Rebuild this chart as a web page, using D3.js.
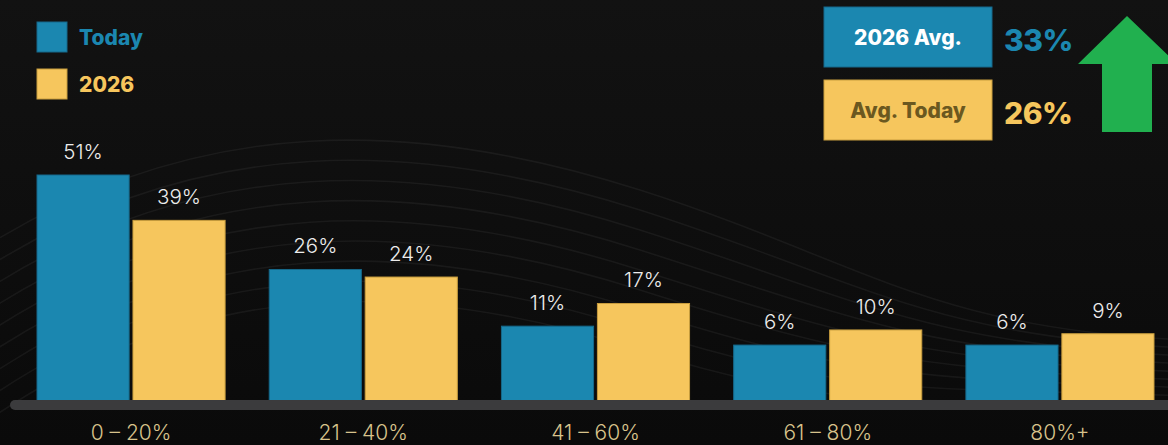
<!DOCTYPE html>
<html>
<head>
<meta charset="utf-8">
<script src="https://cdn.jsdelivr.net/npm/d3@7"></script>
<style>
  html, body { margin: 0; padding: 0; background: #101010; }
  svg { display: block; }
</style>
</head>
<body>
<svg id="chart" width="1168" height="445"></svg>
<script>
// ---- data ----
const categories = ["0 – 20%", "21 – 40%", "41 – 60%", "61 – 80%", "80%+"];
const seriesNames = ["Today", "2026"];
const todayValues = [51, 26, 11, 6, 6];
const future2026Values = [39, 24, 17, 10, 9];
const avgLabels = ["2026 Avg.", "Avg. Today"];
const avgValues = [33, 26];

const W = 1168, H = 445;
const BLUE = "#1b87b0", YELLOW = "#f6c65d";
const FONT = "Inter, 'Open Sans', sans-serif";
const svg = d3.select("#chart");

// background
const defs = svg.append("defs");
const bg = defs.append("linearGradient").attr("id", "bg").attr("x1", 0).attr("y1", 0).attr("x2", 0).attr("y2", 1);
bg.append("stop").attr("offset", "0%").attr("stop-color", "#121212");
bg.append("stop").attr("offset", "100%").attr("stop-color", "#0a0a0a");
svg.append("rect").attr("width", W).attr("height", H).attr("fill", "url(#bg)");

// decorative faint waves
const waveG = svg.append("g").attr("fill", "none").attr("stroke", "#ffffff").attr("stroke-opacity", 0.05).attr("stroke-width", 1.6);
for (let i = 0; i < 9; i++) {
  const y0 = 250 + i * 22, peak = 150 + i * 20, end = 330 + i * 8;
  waveG.append("path").attr("d",
    `M ${-20} ${y0} C ${200} ${peak - 40}, ${420} ${peak - 30}, ${640} ${peak + 40} S ${930} ${end}, ${1190} ${end + 10}`);
}

// scales
const x0 = d3.scaleBand().domain(categories).range([37, 1154]).paddingInner(0.19).paddingOuter(0);
const x1 = d3.scaleBand().domain(seriesNames).range([0, x0.bandwidth()]).paddingInner(0.04);
const baseY = 401;
const y = d3.scaleLinear().domain([-8.8, 51]).range([baseY, 175]);

const rows = categories.map((c, i) => ({ cat: c, vals: [
  { s: "Today", v: todayValues[i] },
  { s: "2026", v: future2026Values[i] }
]}));
const color = d3.scaleOrdinal().domain(seriesNames).range([BLUE, YELLOW]);
const stroke = d3.scaleOrdinal().domain(seriesNames).range(["#16698b", "#c89d3e"]);

const groups = svg.append("g").selectAll("g").data(rows).join("g")
  .attr("transform", d => `translate(${x0(d.cat)},0)`);

groups.selectAll("rect").data(d => d.vals).join("rect")
  .attr("x", d => x1(d.s))
  .attr("y", d => y(d.v))
  .attr("width", x1.bandwidth())
  .attr("height", d => baseY - y(d.v))
  .attr("fill", d => color(d.s))
  .attr("stroke", d => stroke(d.s))
  .attr("stroke-width", 1);

groups.selectAll("text.val").data(d => d.vals).join("text")
  .attr("class", "val")
  .attr("x", d => x1(d.s) + x1.bandwidth() / 2)
  .attr("y", d => y(d.v) - 16)
  .attr("text-anchor", "middle")
  .attr("fill", "#ececec")
  .attr("font-family", FONT)
  .attr("font-weight", 300)
  .attr("font-size", 20.5)
  .text(d => d.v + "%");

// axis bar
svg.append("rect").attr("x", 10).attr("y", 400).attr("width", W + 20).attr("height", 10)
  .attr("rx", 5).attr("fill", "#3b3b3d");

// category labels via axis
const axis = d3.axisBottom(x0).tickSize(0).tickPadding(0);
const ax = svg.append("g").attr("transform", `translate(0,${440})`).call(axis);
ax.select(".domain").remove();
ax.selectAll("text")
  .attr("y", 0).attr("dy", 0)
  .attr("fill", "#d8c38c")
  .attr("font-family", FONT)
  .attr("font-weight", 300)
  .attr("font-size", 21);

// legend
const leg = svg.append("g").selectAll("g").data(seriesNames).join("g")
  .attr("transform", (d, i) => `translate(37,${22 + i * 47})`);
leg.append("rect").attr("width", 30).attr("height", 30).attr("fill", d => color(d))
  .attr("stroke", d => stroke(d)).attr("stroke-width", 1);
leg.append("text").attr("x", 42).attr("y", 23)
  .attr("fill", d => color(d))
  .attr("font-family", FONT)
  .attr("font-weight", 800).attr("font-size", 21)
  .text(d => d);

// averages boxes
const avgFill = [BLUE, YELLOW];
const avgText = ["#ffffff", "#6b5820"];
const avgG = svg.append("g").selectAll("g").data(avgLabels).join("g")
  .attr("transform", (d, i) => `translate(824,${7 + i * 73})`);
avgG.append("rect").attr("width", 168).attr("height", 60)
  .attr("fill", (d, i) => avgFill[i]).attr("stroke", (d, i) => i ? "#c89d3e" : "#16698b");
avgG.append("text").attr("x", 84).attr("y", 38).attr("text-anchor", "middle")
  .attr("fill", (d, i) => avgText[i])
  .attr("font-family", FONT)
  .attr("font-weight", 800).attr("font-size", 21)
  .text(d => d);
avgG.append("text").attr("x", 180).attr("y", 44)
  .attr("fill", (d, i) => avgFill[i])
  .attr("font-family", FONT)
  .attr("font-weight", 800).attr("font-size", 30)
  .attr("letter-spacing", -0.5)
  .text((d, i) => avgValues[i] + "%");

// green arrow
svg.append("path")
  .attr("d", "M1127,16 L1177,64 L1152,64 L1152,132 L1102,132 L1102,64 L1078,64 Z")
  .attr("fill", "#21b04f");
</script>
</body>
</html>
